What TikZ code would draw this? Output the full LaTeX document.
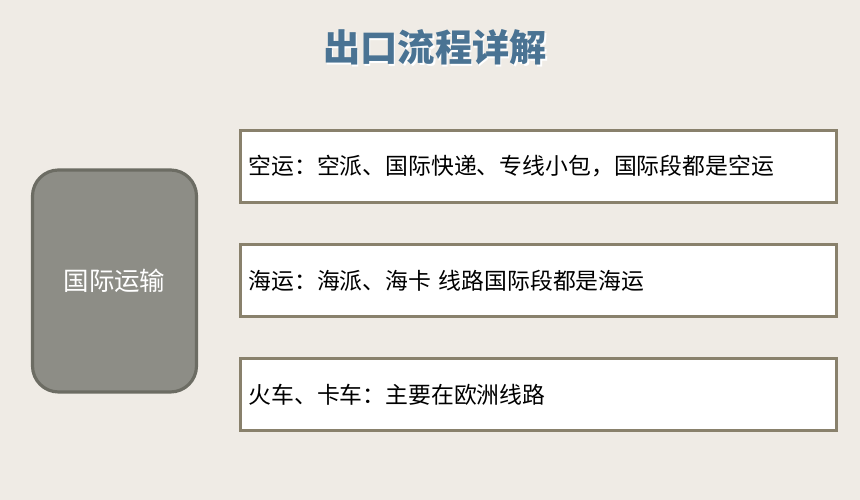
\documentclass[tikz,border=0pt]{standalone}
\usepackage{fontspec}
\newfontfamily\cjk{Noto Sans CJK SC}
\definecolor{paper}{RGB}{239,235,229}
\definecolor{titleblue}{RGB}{74,115,147}
\definecolor{slab}{RGB}{141,141,134}
\definecolor{slabedge}{RGB}{108,108,99}
\definecolor{rowedge}{RGB}{137,129,108}
\tikzset{
  leftbox/.style={draw=slabedge, line width=0.9pt, fill=slab, rounded corners=0.26cm,
    minimum width=1.64cm, minimum height=2.22cm, text=white, font=\cjk\fontsize{7.25pt}{8pt}\selectfont},
  rowbox/.style={draw=rowedge, line width=0.9pt, fill=white, minimum height=0.72cm,
    text width=5.8cm, inner xsep=0.08cm, align=left, font=\cjk\fontsize{6.5pt}{7.5pt}\selectfont},
  headline/.style={font=\cjk\bfseries\fontsize{10.6pt}{12pt}\selectfont}
}
\begin{document}
\begin{tikzpicture}
  \fill[paper] (0,0) rectangle (8.6,5);
  \useasboundingbox (0,0) rectangle (8.6,5);

  % title with a light shadow
  \node[headline, text=white] (shadow) at (4.365,4.51) {出口流程详解};
  \node[headline, text=titleblue] (title) at (4.35,4.53) {出口流程详解};

  \node[leftbox] (intl) at (1.145,2.19) {国际运输};

  \node[rowbox] (air)  at (5.385,3.335) {空运：空派、国际快递、专线小包，国际段都是空运};
  \node[rowbox] (sea)  at (5.385,2.195) {海运：海派、海卡 线路国际段都是海运};
  \node[rowbox] (land) at (5.385,1.055) {火车、卡车：主要在欧洲线路};

\end{tikzpicture}
\end{document}
